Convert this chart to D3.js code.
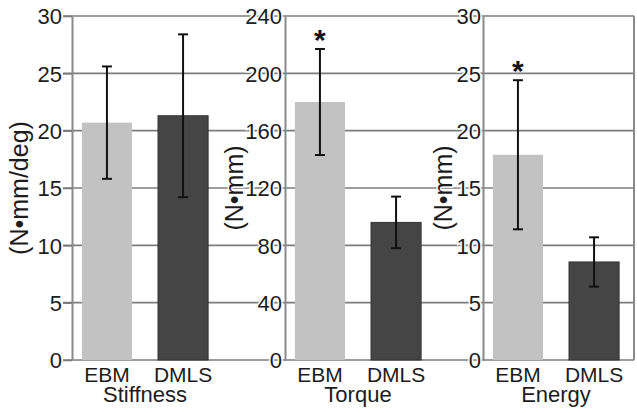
<!DOCTYPE html>
<html>
<head>
<meta charset="utf-8">
<script src="https://cdn.jsdelivr.net/npm/d3@7/dist/d3.min.js"></script>
<style>
  html, body { margin: 0; padding: 0; background: #fff; }
  svg { display: block; font-family: "Liberation Sans", Arial, sans-serif; }
  .grid line { stroke: #7d7d7d; stroke-width: 1.6; }
  .axis path { stroke: #8a8a8a; stroke-width: 2; }
  .axis line { stroke: #7d7d7d; stroke-width: 1.6; }
  .axis text, .halo {
    fill: #1c1c1c;
    stroke: #fff;
    stroke-width: 3;
    paint-order: stroke;
  }
</style>
</head>
<body>
<div id="chart"></div>
<script>
var groups = ['EBM', 'DMLS'];
var panelNames = ['Stiffness', 'Torque', 'Energy'];
var units = ['(N\u2022mm/deg)', '(N\u2022mm)', '(N\u2022mm)'];

var stiffness = [20.7, 21.3];
var stiffnessErr = [4.9, 7.1];
var torque = [180, 96];
var torqueErr = [37, 18];
var energy = [17.9, 8.55];
var energyErr = [6.5, 2.15];

var stiffnessTicks = [0, 5, 10, 15, 20, 25, 30];
var torqueTicks = [0, 40, 80, 120, 160, 200, 240];
var energyTicks = [0, 5, 10, 15, 20, 25, 30];

// groups marked with an asterisk, per panel
var starred = [[], ['EBM'], ['EBM']];

var panels = [
  { name: panelNames[0], unit: units[0], values: stiffness, errs: stiffnessErr, ticks: stiffnessTicks, star: starred[0] },
  { name: panelNames[1], unit: units[1], values: torque, errs: torqueErr, ticks: torqueTicks, star: starred[1] },
  { name: panelNames[2], unit: units[2], values: energy, errs: energyErr, ticks: energyTicks, star: starred[2] }
];

// layout
var width = 637, height = 413;
var plotTop = 16, plotBottom = 360;
var axisX = [72, 285, 483];
var unitX = [28, 243, 451.5];
var tickSize = [9, 0, 0];
var tickPad = [1, 3, 2];
var rightEdge = 634;
var colors = { EBM: '#c2c2c2', DMLS: '#454545' };

var svg = d3.select('#chart').append('svg')
  .attr('width', width)
  .attr('height', height);

// gridlines across the whole figure (all panels share 6 intervals)
var yGrid = d3.scaleLinear()
  .domain([0, d3.max(stiffnessTicks)])
  .range([plotBottom, plotTop]);

svg.append('g')
  .attr('class', 'grid')
  .selectAll('line')
  .data(stiffnessTicks)
  .enter()
  .append('line')
  .attr('x1', axisX[0] - tickSize[0])
  .attr('x2', rightEdge)
  .attr('y1', function (d) { return yGrid(d); })
  .attr('y2', function (d) { return yGrid(d); });

svg.append('line')
  .attr('x1', rightEdge).attr('x2', rightEdge)
  .attr('y1', plotTop).attr('y2', plotBottom)
  .attr('stroke', '#8a8a8a')
  .attr('stroke-width', 2);

panels.forEach(function (p, i) {
  var x0 = axisX[i];
  var y = d3.scaleLinear()
    .domain([0, d3.max(p.ticks)])
    .range([plotBottom, plotTop]);

  var x = d3.scaleBand()
    .domain(groups)
    .range([x0, x0 + 146])
    .paddingInner(0.342)
    .paddingOuter(0.13);

  var g = svg.append('g');

  var rows = groups.map(function (k, j) {
    return { key: k, value: p.values[j], err: p.errs[j] };
  });

  g.selectAll('.bar')
    .data(rows)
    .enter()
    .append('rect')
    .attr('class', 'bar')
    .attr('x', function (d) { return x(d.key); })
    .attr('width', x.bandwidth())
    .attr('y', function (d) { return y(d.value); })
    .attr('height', function (d) { return y(0) - y(d.value); })
    .attr('fill', function (d) { return colors[d.key]; })
    .attr('stroke', function (d) { return d.key === 'DMLS' ? '#333' : 'none'; })
    .attr('stroke-width', 1);

  var err = g.selectAll('.err')
    .data(rows)
    .enter()
    .append('g')
    .attr('class', 'err')
    .attr('stroke', '#111')
    .attr('stroke-width', 2);

  err.append('line')
    .attr('x1', function (d) { return x(d.key) + x.bandwidth() / 2; })
    .attr('x2', function (d) { return x(d.key) + x.bandwidth() / 2; })
    .attr('y1', function (d) { return y(d.value + d.err); })
    .attr('y2', function (d) { return y(d.value - d.err); });

  [1, -1].forEach(function (s) {
    err.append('line')
      .attr('x1', function (d) { return x(d.key) + x.bandwidth() / 2 - 5; })
      .attr('x2', function (d) { return x(d.key) + x.bandwidth() / 2 + 5; })
      .attr('y1', function (d) { return y(d.value + s * d.err); })
      .attr('y2', function (d) { return y(d.value + s * d.err); });
  });

  g.selectAll('.star')
    .data(rows.filter(function (d) { return p.star.indexOf(d.key) >= 0; }))
    .enter()
    .append('text')
    .attr('class', 'star')
    .attr('x', function (d) { return x(d.key) + x.bandwidth() / 2; })
    .attr('y', function (d) { return y(d.value + d.err) + 1; })
    .attr('text-anchor', 'middle')
    .attr('font-size', 30)
    .attr('font-weight', 'bold')
    .attr('fill', '#111')
    .text('*');

  // y axis
  var axis = g.append('g')
    .attr('class', 'axis')
    .attr('transform', 'translate(' + x0 + ',0)')
    .call(d3.axisLeft(y)
      .tickValues(p.ticks)
      .tickSize(tickSize[i])
      .tickSizeOuter(0)
      .tickPadding(tickPad[i]));
  axis.selectAll('text')
    .attr('font-size', 22)
    .attr('font-family', '"Liberation Sans", Arial, sans-serif')
    .attr('dy', '0.36em');

  g.append('text')
    .attr('class', 'halo')
    .attr('transform', 'translate(' + unitX[i] + ',' + ((plotTop + plotBottom) / 2) + ') rotate(-90)')
    .attr('text-anchor', 'middle')
    .attr('font-size', 25)
    .text(p.unit);

  // category labels
  g.selectAll('.cat')
    .data(groups)
    .enter()
    .append('text')
    .attr('class', 'cat')
    .attr('x', function (d) { return x(d) + x.bandwidth() / 2; })
    .attr('y', 381.5)
    .attr('text-anchor', 'middle')
    .attr('font-size', 21)
    .attr('fill', '#1c1c1c')
    .text(function (d) { return d; });

  g.append('text')
    .attr('x', (x('EBM') + x('DMLS') + x.bandwidth()) / 2)
    .attr('y', 401.5)
    .attr('text-anchor', 'middle')
    .attr('font-size', 22)
    .attr('fill', '#1c1c1c')
    .text(p.name);
});
</script>
</body>
</html>
